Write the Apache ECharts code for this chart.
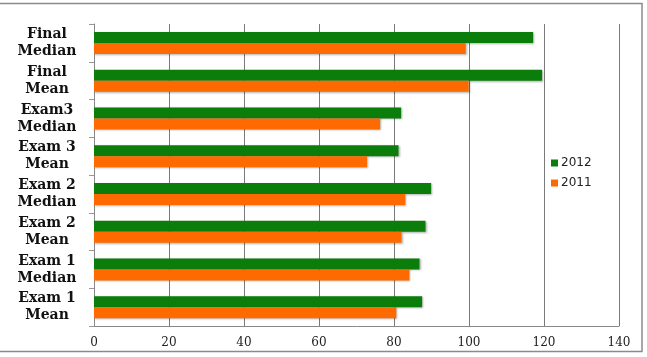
<!DOCTYPE html>
<html>
<head>
<meta charset="utf-8">
<script src="https://cdn.jsdelivr.net/npm/echarts@6/dist/echarts.min.js"></script>
<style>
html,body{margin:0;padding:0;background:#fff;}
#chart{width:647px;height:357px;}
</style>
</head>
<body>
<div id="chart"></div>
<script>
const categories = ['Exam 1\nMean','Exam 1\nMedian','Exam 2\nMean','Exam 2\nMedian','Exam 3\nMean','Exam3\nMedian','Final\nMean','Final\nMedian'];
const values2012 = [87.5, 86.8, 88.4, 89.9, 81.2, 81.9, 119.5, 117.1];
const values2011 = [80.6, 84.1, 82.0, 83.0, 72.8, 76.3, 99.9, 99.1];
const xTicks = [0, 20, 40, 60, 80, 100, 120, 140];

const chart = echarts.init(document.getElementById('chart'), null, {renderer:'canvas'});
const shadow = {shadowColor:'rgba(0,0,0,0.3)', shadowBlur:2, shadowOffsetX:1, shadowOffsetY:1};
chart.setOption({
  animation:false,
  backgroundColor:'#fff',
  graphic:[{type:'rect', shape:{x:-3, y:3.5, width:645, height:348}, style:{fill:'none', stroke:'#8a8a8a', lineWidth:1.5}, z:-1}],
  grid:{left:94, right:28, top:24, bottom:31},
  legend:{
    data:['2012','2011'], orient:'vertical', left:546, top:152,
    icon:'rect', itemWidth:7, itemHeight:7, itemGap:8,
    textStyle:{fontFamily:'DejaVu Sans', fontSize:12, color:'#222', padding:[0,0,0,-2]}
  },
  xAxis:{
    type:'value', min:xTicks[0], max:xTicks[xTicks.length-1], interval:20,
    axisLine:{show:true, lineStyle:{color:'#888', width:1}},
    axisTick:{show:false},
    splitLine:{show:true, lineStyle:{color:'#7a7a7a', width:1}},
    axisLabel:{fontFamily:'DejaVu Serif', fontSize:12, color:'#222', margin:11}
  },
  yAxis:{
    type:'category', data:categories,
    axisLine:{show:true, lineStyle:{color:'#888', width:1}},
    axisTick:{show:true, length:5, lineStyle:{color:'#999'}},
    axisLabel:{fontFamily:'DejaVu Serif', fontWeight:'bold', fontSize:14, lineHeight:17, color:'#111', align:'center', margin:47}
  },
  series:[
    {name:'2012', type:'bar', data:values2012, barWidth:11, barGap:'0%', itemStyle:Object.assign({color:'#0b7d0b'}, shadow)},
    {name:'2011', type:'bar', data:values2011, barWidth:11, barGap:'0%', itemStyle:Object.assign({color:'#ff6a00'}, shadow)}
  ]
});
</script>
</body>
</html>
